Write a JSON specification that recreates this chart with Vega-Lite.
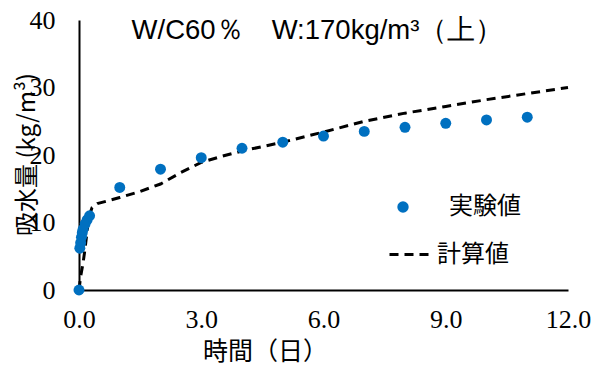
{
  "$schema": "https://vega.github.io/schema/vega-lite/v6.json",
  "width": 489,
  "height": 270,
  "autosize": "none",
  "padding": {"left": 79, "top": 20, "right": 26, "bottom": 77},
  "background": "white",
  "config": {"view": {"stroke": null}},
  "title": {"text": "W/C60％　W:170kg/m³（上）", "anchor": "middle", "dx": -6, "offset": -51, "fontSize": 27.5, "font": "Liberation Sans", "fontWeight": "normal", "color": "black", "baseline": "middle"},
  "datasets": {
    "obs": [
      {"t": 0, "v": 0, "s": "実験値"},
      {"t": 0.02, "v": 6.2, "s": "実験値"},
      {"t": 0.04, "v": 7.0, "s": "実験値"},
      {"t": 0.06, "v": 7.8, "s": "実験値"},
      {"t": 0.08, "v": 8.5, "s": "実験値"},
      {"t": 0.1, "v": 9.0, "s": "実験値"},
      {"t": 0.15, "v": 9.8, "s": "実験値"},
      {"t": 0.2, "v": 10.4, "s": "実験値"},
      {"t": 0.26, "v": 11.0, "s": "実験値"},
      {"t": 1, "v": 15.2, "s": "実験値"},
      {"t": 2, "v": 17.9, "s": "実験値"},
      {"t": 3, "v": 19.6, "s": "実験値"},
      {"t": 4, "v": 21.0, "s": "実験値"},
      {"t": 5, "v": 21.9, "s": "実験値"},
      {"t": 6, "v": 22.8, "s": "実験値"},
      {"t": 7, "v": 23.5, "s": "実験値"},
      {"t": 8, "v": 24.1, "s": "実験値"},
      {"t": 9, "v": 24.7, "s": "実験値"},
      {"t": 10, "v": 25.2, "s": "実験値"},
      {"t": 11, "v": 25.6, "s": "実験値"}
    ],
    "calc": [
      {"t": 0, "v": 0, "s": "計算値"},
      {"t": 0.04, "v": 2.0, "s": "計算値"},
      {"t": 0.1, "v": 4.0, "s": "計算値"},
      {"t": 0.15, "v": 6.2, "s": "計算値"},
      {"t": 0.2, "v": 8.8, "s": "計算値"},
      {"t": 0.25, "v": 11.0, "s": "計算値"},
      {"t": 0.32, "v": 12.2, "s": "計算値"},
      {"t": 0.45, "v": 12.8, "s": "計算値"},
      {"t": 0.7, "v": 13.2, "s": "計算値"},
      {"t": 1, "v": 13.7, "s": "計算値"},
      {"t": 1.5, "v": 14.6, "s": "計算値"},
      {"t": 2, "v": 15.7, "s": "計算値"},
      {"t": 2.5, "v": 17.4, "s": "計算値"},
      {"t": 3, "v": 18.9, "s": "計算値"},
      {"t": 3.5, "v": 19.8, "s": "計算値"},
      {"t": 4, "v": 20.6, "s": "計算値"},
      {"t": 5, "v": 21.9, "s": "計算値"},
      {"t": 6, "v": 23.4, "s": "計算値"},
      {"t": 7, "v": 25.0, "s": "計算値"},
      {"t": 8, "v": 26.2, "s": "計算値"},
      {"t": 9, "v": 27.2, "s": "計算値"},
      {"t": 10, "v": 28.2, "s": "計算値"},
      {"t": 11, "v": 29.1, "s": "計算値"},
      {"t": 12, "v": 30.0, "s": "計算値"}
    ]
  },
  "encoding": {
    "x": {
      "field": "t", "type": "quantitative",
      "scale": {"domain": [0, 12], "nice": false, "zero": true},
      "axis": {
        "values": [0, 3, 6, 9, 12], "format": ".1f", "grid": false, "ticks": false,
        "domainColor": "black", "domainWidth": 2,
        "labelFont": "Liberation Serif", "labelFontSize": 26, "labelColor": "black", "labelPadding": 16,
        "labelFlush": false,
        "title": "時間（日）", "titleFont": "Noto Sans CJK JP", "titleFontSize": 25, "titleFontWeight": "normal", "titleColor": "black",
        "titleX": 186, "titleY": 61, "titleBaseline": "middle", "titleAlign": "center"
      }
    },
    "y": {
      "field": "v", "type": "quantitative",
      "scale": {"domain": [0, 40], "nice": false},
      "axis": {
        "values": [0, 10, 20, 30, 40], "grid": false, "ticks": false,
        "domainColor": "black", "domainWidth": 2,
        "labelFont": "Liberation Serif", "labelFontSize": 26, "labelColor": "black", "labelPadding": 24,
        "labelFlush": false,
        "title": "吸水量 (kg/m³)", "titleFont": "Noto Sans CJK JP", "titleFontSize": 24, "titleFontWeight": "normal", "titleColor": "black",
        "titleX": -52, "titleY": 134, "titleBaseline": "middle", "titleAlign": "center", "titleAngle": -90
      }
    }
  },
  "layer": [
    {
      "data": {"name": "calc"},
      "mark": {"type": "line", "color": "black", "strokeWidth": 3},
      "encoding": {
        "strokeDash": {
          "field": "s", "type": "nominal",
          "scale": {"domain": ["計算値"], "range": [[9, 6]]},
          "legend": {
            "title": null, "orient": "none", "legendX": 309, "legendY": 213,
            "symbolType": "stroke", "symbolSize": 1600, "symbolStrokeWidth": 3, "symbolStrokeColor": "black",
            "labelFont": "Noto Sans CJK JP", "labelFontSize": 24, "labelColor": "black", "labelOffset": 6
          }
        }
      }
    },
    {
      "data": {"name": "obs"},
      "mark": {"type": "point", "filled": true, "opacity": 1, "size": 120},
      "encoding": {
        "color": {
          "field": "s", "type": "nominal",
          "scale": {"domain": ["実験値"], "range": ["#0070C0"]},
          "legend": {
            "title": null, "orient": "none", "legendX": 312, "legendY": 175,
            "symbolType": "circle", "symbolSize": 130, "symbolOpacity": 1,
            "labelFont": "Noto Sans CJK JP", "labelFontSize": 24, "labelColor": "black", "labelOffset": 34
          }
        }
      }
    }
  ]
}
